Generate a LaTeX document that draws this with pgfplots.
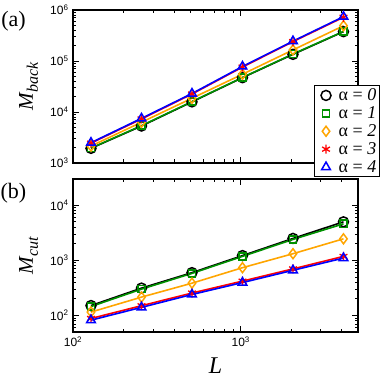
\documentclass[border=0pt]{standalone}
\usepackage{fontspec}
\setmainfont{Liberation Serif}
\setsansfont{Liberation Sans}
\usepackage{pgfplots}
\usepackage{pgfplotstable}
\pgfplotsset{compat=1.18}

\definecolor{ggreen}{RGB}{0,145,0}
\definecolor{gorange}{RGB}{255,165,0}

% M_back (top panel)
\pgfplotstableread{
L    a0     a1     a2     a3     a4
128  1940   1960   2150   2450   2500
256  5310   5400   6300   7300   7500
512  15800  16000  18600  22500  23000
1024 47100  47500  55000  76000  78000
2048 135000 137000 165000 240000 245000
4096 376000 380000 490000 720000 740000
}\backdata

% M_cut (bottom panel)
\pgfplotstableread{
L    a0   a1   a2   a3   a4
128  151  145  115  88   82
256  313  300  215  150  140
512  598  580  385  255  240
1024 1220 1180 736  420  395
2048 2500 2400 1320 700  660
4096 5000 4600 2460 1180 1100
}\cutdata

\pgfplotsset{
  /pgfplots/lineA/.style={black, line width=1.6pt, forget plot, no marks},
  /pgfplots/lineB/.style={ggreen, line width=1.6pt, forget plot, no marks},
  /pgfplots/lineC/.style={gorange, line width=1.6pt, forget plot, no marks},
  /pgfplots/lineD/.style={red, line width=1.6pt, forget plot, no marks},
  /pgfplots/lineE/.style={blue, line width=1.6pt, forget plot, no marks},
  /pgfplots/markA/.style={only marks, black, mark=o, mark size=5pt, mark options={line width=1.5pt}},
  /pgfplots/markB/.style={only marks, ggreen, mark=square, mark size=3.6pt, mark options={line width=1.5pt}},
  /pgfplots/markC/.style={only marks, gorange, mark=diamond, mark size=5pt, mark options={line width=1.5pt}},
  /pgfplots/markD/.style={only marks, red, mark=asterisk, mark size=4.5pt, mark options={line width=1.3pt}},
  /pgfplots/markE/.style={only marks, blue, mark=triangle, mark size=5pt, mark options={line width=1.5pt}},
}
\newcommand{\alab}[1]{\fontsize{18}{18}\selectfont α = \textit{#1}}

\begin{document}
\begin{tikzpicture}
\path[use as bounding box] (-73pt,-214pt) rectangle (309pt,163pt);

% (a) top panel
\begin{axis}[
    width=285pt, height=153pt, scale only axis,
    xmode=log, ymode=log, log basis x=10, log basis y=10,
    xmin=100, xmax=5000,
    ymin=1e3, ymax=1e6,
    xtick={100,1000},
    minor xtick={200,300,400,500,600,700,800,900,2000,3000,4000,5000},
    xticklabels={},
    at={(0pt,0pt)}, anchor=south west,
    axis line style={line width=1.4pt},
    tick style={line width=0.8pt, black},
    major tick length=6pt, minor tick length=3.5pt,
    tick label style={font=\sffamily\fontsize{12}{14}\selectfont},
    yticklabel={10\textsuperscript{\pgfmathparse{int(round(\tick))}\pgfmathresult}},
    yticklabel style={xshift=-1pt},
    ylabel={\fontsize{21}{24}\selectfont\textit{M}\raisebox{-5pt}{\fontsize{16}{18}\selectfont\textit{back}}},
    ylabel style={at={(axis description cs:-0.156,0.5)}, anchor=center},
    legend style={at={(1.0772,0.5098)}, anchor=north east, draw=black,
      line width=1.4pt, inner sep=2pt, row sep=2.5pt,
      nodes={inner sep=1pt}},
    legend cell align=left,
    legend image code/.code={%
      \path (0pt,0pt) (20pt,0pt);
      \draw[#1] plot coordinates {(9pt,0pt)};},
]
\addplot[lineA] table[x=L,y=a0] {\backdata};
\addplot[markA] table[x=L,y=a0] {\backdata};
\addlegendentry{\alab{0}}
\addplot[lineB] table[x=L,y=a1] {\backdata};
\addplot[markB] table[x=L,y=a1] {\backdata};
\addlegendentry{\alab{1}}
\addplot[lineC] table[x=L,y=a2] {\backdata};
\addplot[markC] table[x=L,y=a2] {\backdata};
\addlegendentry{\alab{2}}
\addplot[lineD] table[x=L,y=a3] {\backdata};
\addplot[markD] table[x=L,y=a3] {\backdata};
\addlegendentry{\alab{3}}
\addplot[lineE] table[x=L,y=a4] {\backdata};
\addplot[markE] table[x=L,y=a4] {\backdata};
\addlegendentry{\alab{4}}
\end{axis}

% (b) bottom panel
\begin{axis}[
    width=285pt, height=153pt, scale only axis,
    xmode=log, ymode=log, log basis x=10, log basis y=10,
    xmin=100, xmax=5000,
    ymin=50, ymax=3e4,
    xtick={100,1000},
    minor xtick={200,300,400,500,600,700,800,900,2000,3000,4000,5000},
    xticklabels={10\textsuperscript{2},10\textsuperscript{3}},
    at={(0pt,-169pt)}, anchor=south west,
    axis line style={line width=1.4pt},
    tick style={line width=0.8pt, black},
    major tick length=6pt, minor tick length=3.5pt,
    tick label style={font=\sffamily\fontsize{12}{14}\selectfont},
    yticklabel={10\textsuperscript{\pgfmathparse{int(round(\tick))}\pgfmathresult}},
    yticklabel style={xshift=-1pt},
    xticklabel style={yshift=-1pt},
    ylabel={\fontsize{21}{24}\selectfont\textit{M}\raisebox{-5pt}{\fontsize{16}{18}\selectfont\textit{cut}}},
    ylabel style={at={(axis description cs:-0.156,0.5)}, anchor=center},
    xlabel={\fontsize{24}{26}\selectfont\textit{L}},
    xlabel style={at={(axis description cs:0.5,-0.268)}, anchor=base},
]
\addplot[lineA] table[x=L,y=a0] {\cutdata};
\addplot[markA] table[x=L,y=a0] {\cutdata};
\addplot[lineB] table[x=L,y=a1] {\cutdata};
\addplot[markB] table[x=L,y=a1] {\cutdata};
\addplot[lineC] table[x=L,y=a2] {\cutdata};
\addplot[markC] table[x=L,y=a2] {\cutdata};
\addplot[lineD] table[x=L,y=a3] {\cutdata};
\addplot[markD] table[x=L,y=a3] {\cutdata};
\addplot[lineE] table[x=L,y=a4] {\cutdata};
\addplot[markE] table[x=L,y=a4] {\cutdata};
\end{axis}

\node[font=\fontsize{22}{24}\selectfont] at (-59.5pt,142pt) {(a)};
\node[font=\fontsize{22}{24}\selectfont] at (-59.5pt,-30pt) {(b)};
\end{tikzpicture}
\end{document}
